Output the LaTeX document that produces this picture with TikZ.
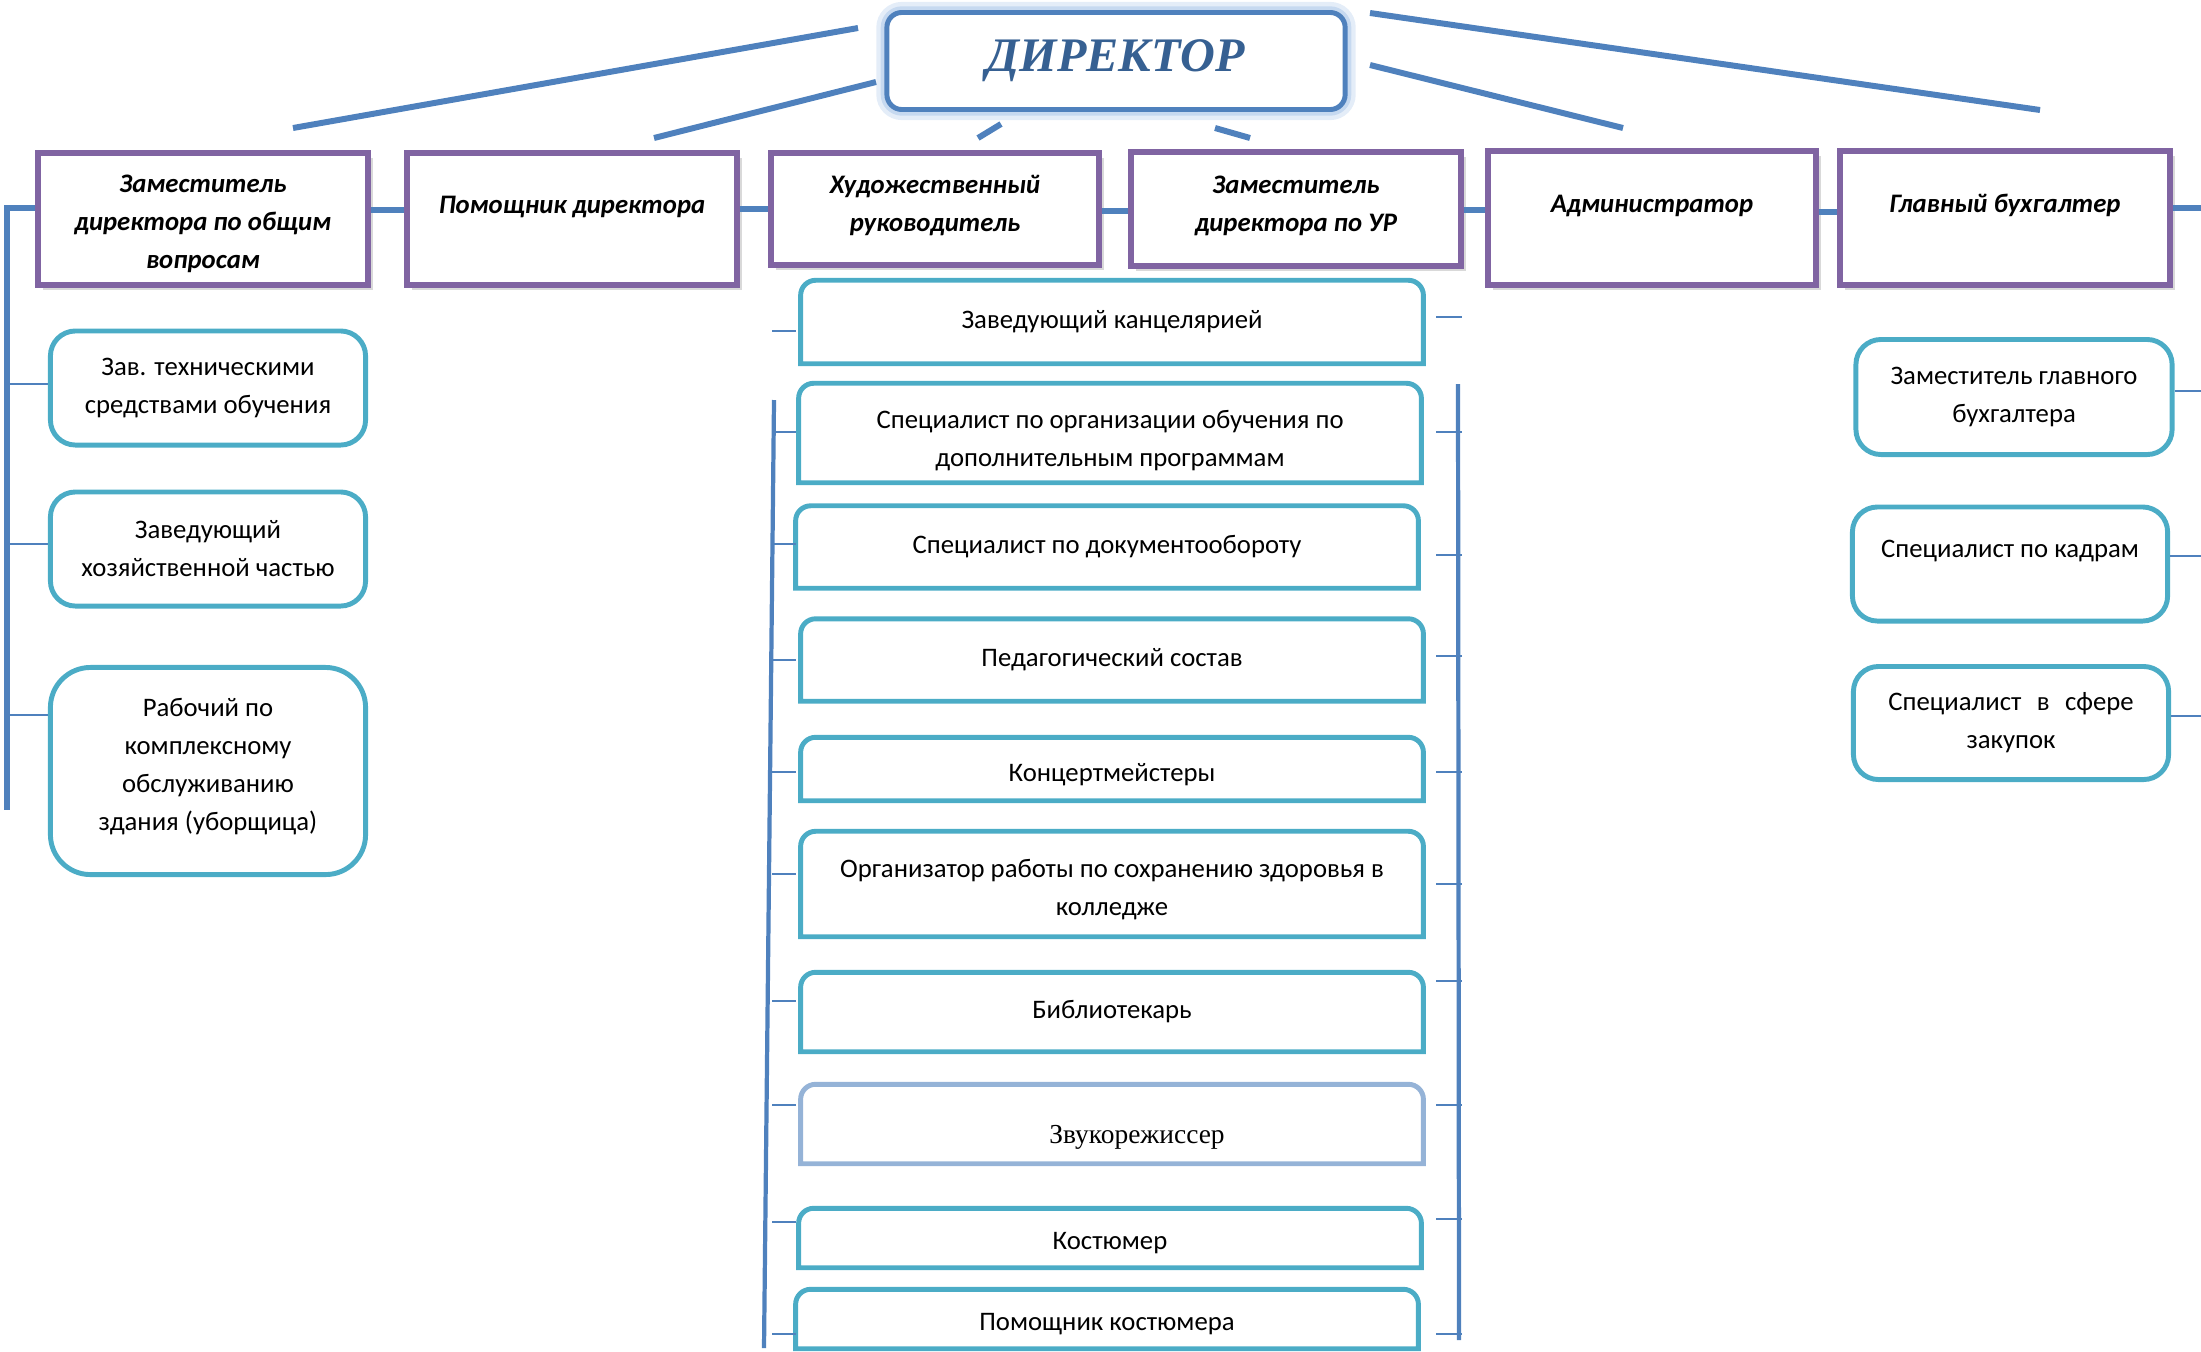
\documentclass[tikz,border=0pt]{standalone}
\usepackage{fontspec}
\setmainfont{Carlito}
\newfontfamily\timesfont{Liberation Serif}
\usetikzlibrary{shadows,calc}

\definecolor{lineblue}{HTML}{4F81BD}
\definecolor{boxpurple}{HTML}{8064A2}
\definecolor{boxteal}{HTML}{4BACC6}
\definecolor{softblue}{HTML}{95B3D7}
\definecolor{titleblue}{HTML}{366092}
\definecolor{glowblue}{HTML}{A7C4E8}

\tikzset{
  director/.style={draw=lineblue, line width=1.4pt, rounded corners=0.15cm, fill=white,
    minimum width=4.58cm, minimum height=0.97cm,
    preaction={draw=glowblue, line width=6pt, opacity=0.3},
    preaction={draw=glowblue, line width=3.5pt, opacity=0.5},
    font=\timesfont\bfseries\itshape\fontsize{13.7}{16}\selectfont, text=titleblue},
  topbox/.style={draw=boxpurple, line width=1.7pt, fill=white, align=center,
    drop shadow={shadow xshift=0.05cm, shadow yshift=-0.05cm, opacity=0.3},
    font=\bfseries\itshape\fontsize{7.6}{10.8}\selectfont},
  subbox/.style={draw=boxteal, line width=1.4pt, rounded corners=0.25cm, align=center,
    font=\fontsize{7.6}{10.8}\selectfont},
  midbox/.style={align=center, minimum width=6.21cm, inner sep=0pt,
    font=\fontsize{7.6}{10.8}\selectfont},
  ray/.style={draw=lineblue, line width=1.7pt},
  bar/.style={draw=lineblue, line width=1.9pt},
  vline/.style={draw=lineblue, line width=1.2pt},
  tick/.style={draw=lineblue, line width=0.6pt}
}

\begin{document}
\begin{tikzpicture}[x=0.01cm, y=-0.01cm]
        \useasboundingbox (0,0) rectangle (2201,1351);

        % Director.
        \node[director] (dir) at (1116,61) {ДИРЕКТОР};

        % Rays from the director.
        \coordinate (r1a) at (858,28);   \coordinate (r1b) at (293,128);
        \coordinate (r2a) at (876,82);   \coordinate (r2b) at (654,138);
        \coordinate (r3a) at (1001,124); \coordinate (r3b) at (978,138);
        \coordinate (r4a) at (1215,128); \coordinate (r4b) at (1250,138);
        \coordinate (r5a) at (1370,65);  \coordinate (r5b) at (1623,128);
        \coordinate (r6a) at (1370,13);  \coordinate (r6b) at (2040,110);
        \foreach \i in {1,...,6}
            \draw[ray] (r\i a) -- (r\i b);

        % First level.
        \node[topbox, minimum width=3.29cm, minimum height=1.32cm, text height=1.03cm] (t1) at (203,219) {Заместитель\\директора по общим\\вопросам};
        \node[topbox, minimum width=3.29cm, minimum height=1.32cm, text depth=0.29cm] (t2) at (572,219) {Помощник директора};
        \node[topbox, minimum width=3.27cm, minimum height=1.12cm, text depth=0.11cm] (t3) at (935,209) {Художественный\\руководитель};
        \node[topbox, minimum width=3.29cm, minimum height=1.13cm, text depth=0.11cm] (t4) at (1296,209) {Заместитель\\директора по УР};
        \node[topbox, minimum width=3.27cm, minimum height=1.33cm, text depth=0.29cm] (t5) at (1652,218) {Администратор};
        \node[topbox, minimum width=3.30cm, minimum height=1.33cm, text depth=0.29cm] (t6) at (2005,218) {Главный бухгалтер};

        % Bars between first level.
        \coordinate (lv) at (7,208);
        \coordinate (rv) at (2201,208);
        \draw[bar] (t1.east |- 0,210) -- (t2.west |- 0,210);
        \draw[bar] (t2.east |- 0,209) -- (t3.west |- 0,209);
        \draw[bar] (t3.east |- 0,211) -- (t4.west |- 0,211);
        \draw[bar] (t4.east |- 0,210) -- (t5.west |- 0,210);
        \draw[bar] (t5.east |- 0,212) -- (t6.west |- 0,212);
        \draw[bar] (t6.east |- rv) -- (rv);
        \draw[bar] (t1.west |- lv) -- (lv) -- (7,810);

        % Left column.
        \node[subbox, minimum width=3.15cm, minimum height=1.14cm] (a1) at (208,388) {Зав. техническими\\средствами обучения};
        \node[subbox, minimum width=3.15cm, minimum height=1.14cm] (a2) at (208,549) {Заведующий\\хозяйственной частью};
        \node[subbox, minimum width=3.15cm, minimum height=2.07cm, rounded corners=0.4cm, text depth=0.14cm] (a3) at (208,771) {Рабочий по\\комплексному\\обслуживанию\\здания (уборщица)};
        \foreach \n/\y in {a1/384, a2/544, a3/715}
            \draw[tick] (7,\y) -- (\n.west |- 0,\y);

        % Middle column.
        \node[midbox, minimum height=0.82cm] (m1) at (1112,322) {Заведующий канцелярией};
        \node[midbox, minimum height=0.98cm, text height=0.71cm] (m2) at (1110,433) {Специалист по организации обучения по\\дополнительным программам};
        \node[midbox, minimum height=0.81cm] (m3) at (1107,547) {Специалист по документообороту};
        \node[midbox, minimum height=0.81cm] (m4) at (1112,660) {Педагогический состав};
        \node[midbox, minimum height=0.62cm, text height=0.30cm] (m5) at (1112,769) {Концертмейстеры};
        \node[midbox, minimum height=1.04cm, text height=0.68cm] (m6) at (1112,884) {Организатор работы по сохранению здоровья в\\колледже};
        \node[midbox, minimum height=0.78cm] (m7) at (1112,1012) {Библиотекарь};
        \node[midbox, minimum height=0.78cm, text height=0.45cm, font=\timesfont\fontsize{7.8}{10}\selectfont] (m8) at (1112,1124) {\hspace*{0.5cm}Звукорежиссер};
        \node[midbox, minimum height=0.58cm, text height=0.28cm] (m9) at (1110,1238) {Костюмер};
        \node[midbox, minimum height=0.58cm, text height=0.28cm] (m10) at (1107,1319) {Помощник костюмера};
        \foreach \n/\c in {m1/boxteal, m2/boxteal, m3/boxteal, m4/boxteal, m5/boxteal,
                           m6/boxteal, m7/boxteal, m8/softblue, m9/boxteal, m10/boxteal}
            \draw[draw=\c, line width=1.4pt] (\n.south west) [rounded corners=0.15cm]
                -- (\n.north west) -- (\n.north east) [sharp corners] -- (\n.south east) -- cycle;

        \draw[vline] (774,400) -- (764,1348);
        \draw[vline] (1458,384) -- (1459,1340);
        \foreach \y in {331,432,544,660,772,874,1001,1105,1222,1334}
            \draw[tick] (772,\y) -- (796,\y);
        \foreach \y in {317,432,555,656,772,884,981,1105,1219,1334}
            \draw[tick] (1436,\y) -- (1462,\y);

        % Right column.
        \node[subbox, minimum width=3.16cm, minimum height=1.15cm] (b1) at (2014,397) {Заместитель главного\\бухгалтера};
        \node[subbox, minimum width=3.15cm, minimum height=1.14cm, text depth=0.31cm] (b2) at (2010,564) {Специалист по кадрам};
        \node[subbox, minimum width=3.15cm, minimum height=1.13cm] (b3) at (2011,723) {Специалист\hspace{0.35em} в\hspace{0.35em} сфере\\закупок};
        \foreach \n/\y in {b1/391, b2/556, b3/716}
            \draw[tick] (\n.east |- 0,\y) -- (2201,\y);

    \end{tikzpicture}
\end{document}
